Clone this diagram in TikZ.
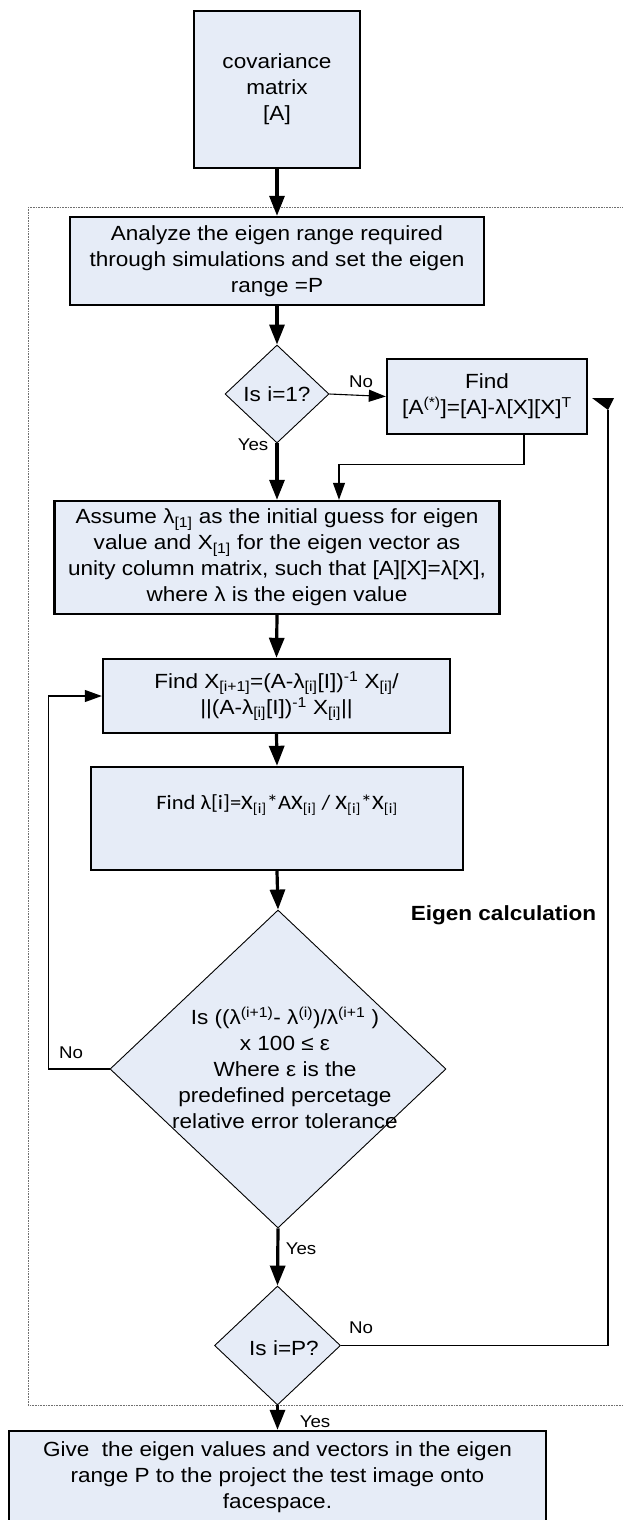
\documentclass[tikz,border=0pt]{standalone}
\usepackage{fontspec}
\setmainfont{Liberation Sans}[FakeStretch=1.1]
\newfontfamily\calibfont{Carlito}[FakeStretch=1.1]
\usetikzlibrary{arrows.meta,shapes.geometric}
\definecolor{boxfill}{HTML}{E6ECF7}
\definecolor{dotgray}{HTML}{707070}
\newcommand\mainsz{\fontsize{20.5}{26}\selectfont}
\newcommand\lblsz{\fontsize{17}{20}\selectfont}
\begin{document}
\begin{tikzpicture}[x=1pt,y=-1pt,
  box/.style={draw=black, line width=2.4pt, fill=boxfill, rectangle, inner sep=0pt, align=center, font=\mainsz},
  dec/.style={draw=black, line width=0.9pt, fill=boxfill, diamond, inner sep=0pt, font=\mainsz},
  txt/.style={inner sep=0pt, align=center, font=\mainsz},
  lbl/.style={inner sep=0pt, font=\lblsz},
  thick arrow/.style={line width=3.2pt, -{Triangle[length=20pt,width=15pt]}},
  thin arrow/.style={line width=1.1pt, -{Triangle[length=17pt,width=12pt]}},
  thin line/.style={line width=1.1pt}]
\useasboundingbox (0,0) rectangle (623,1520);

% container
\draw[dotgray, line width=0.8pt, dash pattern=on 0.8pt off 0.8pt] (28,207) rectangle (640,1405);

% nodes
\node[box, minimum width=166pt, minimum height=157pt] (cov) at (277,89.5) {covariance\\matrix\\{[A]}};
\node[box, minimum width=414pt, minimum height=88pt] (analyze) at (277,261) {Analyze the eigen range required\\through simulations and set the eigen\\range =P};
\node[dec, minimum width=104pt, minimum height=98pt] (d1) at (277,394) {Is i=1?};
\node[box, minimum width=200pt, minimum height=75pt] (findA) at (487,396.5) {Find\\{[A\textsuperscript{(*)}]=[A]-λ[X][X]\textsuperscript{T}}};
\node[box, minimum width=445pt, minimum height=113pt] (assume) at (277,557.5) {Assume λ\textsubscript{[1]} as the initial guess for eigen\\value and X\textsubscript{[1]} for the eigen vector as\\unity column matrix, such that [A][X]=λ[X],\\where λ is the eigen value};
\node[box, minimum width=347pt, minimum height=74pt] (findX) at (276.5,696) {Find X\textsubscript{[i+1]}=(A-λ\textsubscript{[i]}[I])\textsuperscript{-1} X\textsubscript{[i]}/\\||(A-λ\textsubscript{[i]}[I])\textsuperscript{-1} X\textsubscript{[i]}||};
\node[box, minimum width=372pt, minimum height=103pt] (findL) at (277,818.5) {};
\node[inner sep=0pt, font=\calibfont\fontsize{20.5}{24}\selectfont] (findLt) at (277,805) {Find λ[i]=X\textsubscript{[i]}*AX\textsubscript{[i]} / X\textsubscript{[i]}*X\textsubscript{[i]}};
\node[inner sep=0pt, font=\bfseries\mainsz] (eigcalc) at (503.5,915) {Eigen calculation};
\node[dec, minimum width=336pt, minimum height=318pt] (d2) at (278,1069) {};
\node[txt] (d2t) at (285,1068) {Is ((λ\textsuperscript{(i+1)}- λ\textsuperscript{(i)})/λ\textsuperscript{(i+1} )\\x 100 ≤ ε\\Where ε is the\\predefined percetage\\relative error tolerance};
\node[dec, minimum width=126pt, minimum height=119pt] (d3) at (277.5,1345.5) {};
\node[txt] (d3t) at (284,1348) {Is i=P?};
\node[box, minimum width=537pt, minimum height=92pt] (final) at (277.5,1477) {Give\ \ the eigen values and vectors in the eigen\\range P to the project the test image onto\\facespace.};

% connectors
\draw[thick arrow] (cov.south) -- (analyze.north);
\draw[thick arrow] (analyze.south) -- (d1.north);
\draw[thin arrow] (d1.east) -- (findA.west);
\draw[thick arrow] (d1.south) -- (assume.north);
\draw[thin arrow] ([xshift=37pt]findA.south) -- ++(0,29) -| ([xshift=62pt]assume.north);
\draw[thick arrow] (assume.south) -- (findX.north);
\draw[thick arrow] (findX.south) -- (findL.north);
\draw[thick arrow] (findL.south) -- (d2.north);
\draw[thin arrow] (d2.west) -- ++(-61,0) |- (findX.west);
\draw[thick arrow] (d2.south) -- (d3.north);
\coordinate (rtip) at (608,410);
\draw[thin line] (d3.east) -| (rtip);
\fill (592,398) -- (614,398) -- (rtip) -- cycle;
\draw[thick arrow] (d3.south) -- (final.north);

% labels
\node[lbl] (l1) at (361,382) {No};
\node[lbl] (l2) at (253,445) {Yes};
\node[lbl] (l3) at (71,1053) {No};
\node[lbl] (l4) at (301,1249) {Yes};
\node[lbl] (l5) at (361,1328) {No};
\node[lbl] (l6) at (315,1422) {Yes};
\end{tikzpicture}
\end{document}
